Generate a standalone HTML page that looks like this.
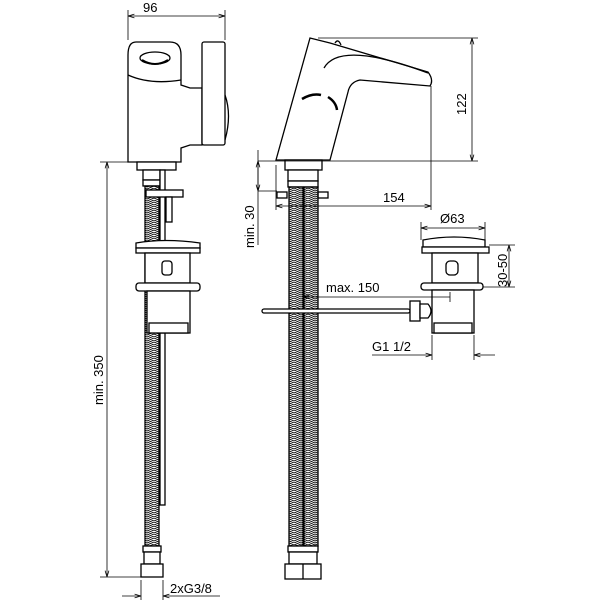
<!DOCTYPE html>
<html><head><meta charset="utf-8"><style>
html,body{margin:0;padding:0;background:#fff}
svg{display:block}
text{font-family:"Liberation Sans",sans-serif;font-size:13px;fill:#000}
</style></head><body>
<svg width="600" height="600" viewBox="0 0 600 600" xmlns="http://www.w3.org/2000/svg">
<defs>
<pattern id="h" width="14" height="4" patternUnits="userSpaceOnUse">
<path d="M0,0 L7,3 L14,0 M0,2 L7,5 L14,2 M0,-2 L7,1 L14,-2" stroke="#000" stroke-width="0.9" fill="none"/>
</pattern>
<marker id="a" viewBox="0 0 10 10" refX="10" refY="5" markerWidth="8" markerHeight="8" orient="auto-start-reverse"><path d="M0,2 L10,5 L0,8" fill="none" stroke="#000" stroke-width="1.2"/></marker>
</defs>
<g fill="#fff" stroke="#000" stroke-width="1.3">
<path d="M136,42 H170 Q181,42 181,55 V85 L190,88 H202 V145 H190 L181,148 V162 H128 V55 Q128,42 136,42 Z"/>
<path d="M128,75 Q150,85 181,80" fill="none"/>
<ellipse cx="155" cy="58" rx="15" ry="6"/>
<path d="M142,60 Q155,68 168,60" fill="none" stroke-width="2"/>
<rect x="202" y="42" width="23" height="103" rx="2"/>
<path d="M225,95 Q232,115 225,140" fill="none"/>
<rect x="137" y="162" width="39" height="8"/>
<rect x="143" y="170" width="17" height="10"/>
<rect x="143" y="180" width="17" height="6"/>
<rect x="145" y="186" width="14" height="360" fill="url(#h)"/>
<rect x="160" y="170" width="5" height="335"/>
<rect x="146" y="190" width="37" height="7"/>
<rect x="166" y="197" width="6" height="25"/>
<rect x="143" y="546" width="18" height="6"/>
<rect x="144" y="552" width="16" height="12"/>
<rect x="141" y="564" width="22" height="13"/>
<path d="M136,243 Q165,238 200,243 V248 H136 Z"/>
<rect x="136" y="248" width="64" height="5"/>
<rect x="145" y="253" width="45" height="30"/>
<rect x="162" y="261" width="10" height="14" rx="3"/>
<rect x="136" y="283" width="64" height="8" rx="3"/>
<rect x="147" y="291" width="43" height="42"/>
<rect x="149" y="323" width="39" height="10"/>
<path d="M276,160 L310,38 L330,43 L428,72 Q434,80 430,86 L360,80 Q350,82 348,92 L330,160 Z"/>
<path d="M335,43 Q338,38 341,45" fill="none"/>
<path d="M324,68 Q340,40 428,73" fill="none"/>
<path d="M302,99 Q312,93 321,95 M328,97 Q336,102 337,110" fill="none" stroke-width="2.5"/>
<rect x="285" y="160" width="37" height="10"/>
<rect x="288" y="170" width="30" height="11"/>
<rect x="288" y="181" width="30" height="6"/>
<rect x="277" y="192" width="10" height="6"/>
<rect x="318" y="192" width="10" height="6"/>
<rect x="289" y="187" width="14" height="359" fill="url(#h)"/>
<rect x="304" y="187" width="14" height="359" fill="url(#h)"/>
<rect x="288" y="546" width="30" height="6"/>
<rect x="289" y="552" width="28" height="12"/>
<rect x="285" y="564" width="36" height="15"/>
<line x1="303" y1="564" x2="303" y2="579"/>
<rect x="262" y="309" width="148" height="4" rx="2"/>
<rect x="410" y="301" width="10" height="20"/>
<path d="M420,304 H428 Q434,311 428,318 H420 Z"/>
<path d="M423,240 Q454,234 485,240 V247 H423 Z"/>
<rect x="422" y="247" width="67" height="6"/>
<rect x="432" y="253" width="46" height="30"/>
<rect x="446" y="261" width="12" height="14" rx="4"/>
<rect x="421" y="283" width="62" height="7" rx="3"/>
<rect x="432" y="290" width="42" height="43"/>
<rect x="434" y="323" width="38" height="10"/>
</g>
<g stroke="#000" stroke-width="0.8" fill="none">
<line x1="128" y1="10" x2="128" y2="40"/><line x1="225" y1="10" x2="225" y2="40"/>
<line x1="128" y1="16" x2="225" y2="16" marker-start="url(#a)" marker-end="url(#a)"/>
<line x1="100" y1="162" x2="128" y2="162"/><line x1="100" y1="577" x2="141" y2="577"/>
<line x1="107" y1="162" x2="107" y2="577" marker-start="url(#a)" marker-end="url(#a)"/>
<line x1="141" y1="580" x2="141" y2="600"/><line x1="163" y1="580" x2="163" y2="600"/>
<line x1="122" y1="596" x2="141" y2="596" marker-end="url(#a)"/>
<line x1="220" y1="596" x2="163" y2="596" marker-end="url(#a)"/>
<line x1="318" y1="38" x2="478" y2="38"/><line x1="258" y1="161" x2="478" y2="161"/>
<line x1="472" y1="38" x2="472" y2="161" marker-start="url(#a)" marker-end="url(#a)"/>
<line x1="258" y1="150" x2="258" y2="245"/>
<line x1="258" y1="191" x2="277" y2="191"/>
<line x1="258" y1="161" x2="258" y2="191" marker-start="url(#a)" marker-end="url(#a)"/>
<line x1="276" y1="165" x2="276" y2="210"/>
<line x1="431" y1="86" x2="431" y2="210"/>
<line x1="276" y1="206" x2="431" y2="206" marker-start="url(#a)" marker-end="url(#a)"/>
<line x1="421" y1="222" x2="421" y2="240"/><line x1="485" y1="222" x2="485" y2="240"/>
<line x1="421" y1="228" x2="485" y2="228" marker-start="url(#a)" marker-end="url(#a)"/>
<line x1="489" y1="245" x2="515" y2="245"/><line x1="483" y1="287" x2="515" y2="287"/>
<line x1="509" y1="245" x2="509" y2="287" marker-start="url(#a)" marker-end="url(#a)"/>
<line x1="303" y1="297" x2="450" y2="297" marker-start="url(#a)"/>
<line x1="450" y1="292" x2="450" y2="302"/>
<line x1="432" y1="335" x2="432" y2="360"/><line x1="474" y1="335" x2="474" y2="360"/>
<line x1="372" y1="355" x2="432" y2="355" marker-end="url(#a)"/>
<line x1="495" y1="355" x2="474" y2="355" marker-end="url(#a)"/>
</g>
<text x="143" y="12">96</text>
<text transform="translate(103,405) rotate(-90)">min. 350</text>
<text x="170" y="593">2xG3/8</text>
<text transform="translate(466,115) rotate(-90)">122</text>
<text transform="translate(254,248) rotate(-90)">min. 30</text>
<text x="383" y="202">154</text>
<text x="440" y="223">Ø63</text>
<text transform="translate(507,287) rotate(-90)">30-50</text>
<text x="326" y="292">max. 150</text>
<text x="372" y="351">G1 1/2</text>
</svg>
</body></html>
